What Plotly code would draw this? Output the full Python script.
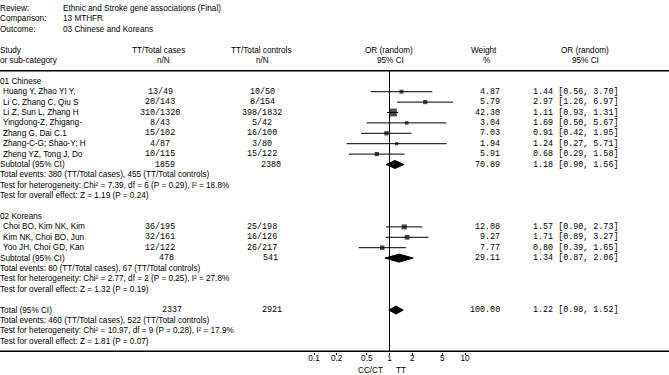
import plotly.graph_objects as go
import math

# ---------------- data ----------------
review_labels = ["Review:", "Comparison:", "Outcome:"]
review_values = ["Ethnic and Stroke gene associations (Final)", "13 MTHFR", "03 Chinese and Koreans"]

cn_studies = ["Huang Y, Zhao YI Y,", "Li C, Zhang C, Qiu S", "Li Z, Sun L, Zhang H", "Yingdong-Z, Zhigang-",
              "Zhang G, Dai C.1", "Zhang-C-G; Shao-Y; H", "Zheng YZ, Tong J, Do"]
cn_cases = ["13/49", "20/143", "310/1320", "8/43", "15/102", "4/87", "10/115"]
cn_controls = ["10/50", "8/154", "398/1832", "5/42", "16/100", "3/80", "15/122"]
cn_weight = [4.87, 5.79, 42.30, 3.04, 7.03, 1.94, 5.91]
cn_or = [1.44, 2.97, 1.11, 1.69, 0.91, 1.24, 0.68]
cn_lo = [0.56, 1.26, 0.93, 0.50, 0.42, 0.27, 0.29]
cn_hi = [3.70, 6.97, 1.31, 5.67, 1.95, 5.71, 1.58]
cn_sub = {"cases": "1859", "controls": "2380", "weight": 70.89, "or": 1.18, "lo": 0.90, "hi": 1.56}
cn_notes = ["Total events: 380 (TT/Total cases), 455 (TT/Total controls)",
            "Test for heterogeneity: Chi\u00b2 = 7.39, df = 6 (P = 0.29), I\u00b2 = 18.8%",
            "Test for overall effect: Z = 1.19 (P = 0.24)"]

kr_studies = ["Choi BO, Kim NK, Kim", "Kim NK, Choi BO, Jun", "Yoo JH, Choi GD, Kan"]
kr_cases = ["36/195", "32/161", "12/122"]
kr_controls = ["25/198", "16/126", "26/217"]
kr_weight = [12.08, 9.27, 7.77]
kr_or = [1.57, 1.71, 0.80]
kr_lo = [0.90, 0.89, 0.39]
kr_hi = [2.73, 3.27, 1.65]
kr_sub = {"cases": "478", "controls": "541", "weight": 29.11, "or": 1.34, "lo": 0.87, "hi": 2.06}
kr_notes = ["Total events: 80 (TT/Total cases), 67 (TT/Total controls)",
            "Test for heterogeneity: Chi\u00b2 = 2.77, df = 2 (P = 0.25), I\u00b2 = 27.8%",
            "Test for overall effect: Z = 1.32 (P = 0.19)"]

total = {"cases": "2337", "controls": "2921", "weight": 100.00, "or": 1.22, "lo": 0.98, "hi": 1.52}
total_notes = ["Total events: 460 (TT/Total cases), 522 (TT/Total controls)",
               "Test for heterogeneity: Chi\u00b2 = 10.97, df = 9 (P = 0.28), I\u00b2 = 17.9%",
               "Test for overall effect: Z = 1.81 (P = 0.07)"]

tick_vals = [0.1, 0.2, 0.5, 1, 2, 5, 10]
tick_text = ["0.1", "0.2", "0.5", "1", "2", "5", "10"]

# ---------------- layout helpers ----------------
W, H = 669, 375
SANS = "Liberation Sans, Arial, sans-serif"
MONO = "Liberation Mono, Courier New, monospace"
FS = 8.2
FM = 8.4


def row_y(k):
    return 8.5 + 10.4 * k


annotations = []


def txt(x, k, s, anchor="left", font=SANS, size=FS):
    annotations.append(dict(x=x / W, y=row_y(k), xref="paper", yref="y", text=s, showarrow=False,
                            xanchor=anchor, yanchor="middle",
                            font=dict(family=font, size=size, color="black")))


# header block
for i, (lab, val) in enumerate(zip(review_labels, review_values)):
    txt(-2, i, lab)
    txt(61, i, val)

txt(-2, 4, "Study")
txt(-2, 5, "or sub-category")
txt(158, 4, "TT/Total cases", "center")
txt(163, 5, "n/N", "center")
txt(261, 4, "TT/Total controls", "center")
txt(262, 5, "n/N", "center")
txt(389, 4, "OR (random)", "center")
txt(390, 5, "95% CI", "center")
txt(484, 4, "Weight", "center")
txt(486, 5, "%", "center")
txt(585, 4, "OR (random)", "center")
txt(585, 5, "95% CI", "center")

ci_x, ci_y = [], []
sq_x, sq_y, sq_s = [], [], []
diamonds = []


def study_rows(k0, studies, cases, controls, weight, ors, los, his):
    for j, name in enumerate(studies):
        k = k0 + j
        txt(1, k, name)
        txt(160, k, cases[j], "center", MONO, FM)
        txt(262, k, controls[j], "center", MONO, FM)
        txt(502, k, f"{weight[j]:.2f}", "right", MONO, FM)
        txt(531, k, f"{ors[j]:.2f} [{los[j]:.2f}, {his[j]:.2f}]", "left", MONO, FM)
        ci_x.extend([los[j], his[j], None])
        ci_y.extend([row_y(k), row_y(k), None])
        sq_x.append(ors[j])
        sq_y.append(row_y(k))
        sq_s.append(2 + 0.9 * math.sqrt(weight[j]))


def summary_row(k, label, d, xc, xt):
    txt(-2, k, label)
    txt(xc, k, d["cases"], "center", MONO, FM)
    txt(xt, k, d["controls"], "center", MONO, FM)
    txt(502, k, f"{d['weight']:.2f}", "right", MONO, FM)
    txt(531, k, f"{d['or']:.2f} [{d['lo']:.2f}, {d['hi']:.2f}]", "left", MONO, FM)
    yc = row_y(k)
    diamonds.append(([d["lo"], d["or"], d["hi"], d["or"], d["lo"]],
                     [yc, yc - 4, yc, yc + 4, yc]))


txt(-2, 7, "01 Chinese")
study_rows(8, cn_studies, cn_cases, cn_controls, cn_weight, cn_or, cn_lo, cn_hi)
summary_row(15, "Subtotal (95% CI)", cn_sub, 165, 271)
for i, n in enumerate(cn_notes):
    txt(-2, 16 + i, n)

txt(-2, 20, "02 Koreans")
study_rows(21, kr_studies, kr_cases, kr_controls, kr_weight, kr_or, kr_lo, kr_hi)
summary_row(24, "Subtotal (95% CI)", kr_sub, 166, 270)
for i, n in enumerate(kr_notes):
    txt(-2, 25 + i, n)

summary_row(29, "Total (95% CI)", total, 172, 272)
for i, n in enumerate(total_notes):
    txt(-2, 30 + i, n)

# labels under axis
for lab, xc in (("CC/CT", 370), ("TT", 401)):
    annotations.append(dict(x=xc / W, y=1 - 370.5 / H, xref="paper", yref="paper", text=lab,
                            showarrow=False, xanchor="center", yanchor="middle",
                            font=dict(family=SANS, size=FS, color="black")))

fig = go.Figure()
fig.add_trace(go.Scatter(x=ci_x, y=ci_y, mode="lines", line=dict(color="black", width=1),
                         hoverinfo="skip", showlegend=False, cliponaxis=False))
fig.add_trace(go.Scatter(x=sq_x, y=sq_y, mode="markers",
                         marker=dict(symbol="square", size=sq_s, color="black", line=dict(width=0)),
                         showlegend=False, cliponaxis=False))
for dx, dy in diamonds:
    fig.add_trace(go.Scatter(x=dx, y=dy, mode="lines", fill="toself", fillcolor="black",
                             line=dict(color="black", width=1),
                             hoverinfo="skip", showlegend=False))

x_one = 389.5
dec = 75.5
lo_px, hi_px = x_one - 1.5 * dec, x_one + 1.5 * dec

shapes = [
    dict(type="line", xref="paper", yref="paper", x0=0, x1=1, y0=1 - 70.8 / H, y1=1 - 70.8 / H,
         line=dict(color="black", width=1.5)),
    dict(type="line", xref="paper", yref="paper", x0=0, x1=1, y0=1 - 351.3 / H, y1=1 - 351.3 / H,
         line=dict(color="black", width=1.5)),
    dict(type="line", xref="x", yref="y", x0=1, x1=1, y0=70.8, y1=351.5, line=dict(color="black", width=1)),
]

fig.update_layout(
    width=W, height=H, margin=dict(l=0, r=0, t=0, b=0),
    paper_bgcolor="white", plot_bgcolor="white",
    xaxis=dict(type="log", range=[-1.5, 1.5], domain=[lo_px / W, hi_px / W], anchor="y",
               tickvals=tick_vals, ticktext=tick_text, ticks="outside", ticklen=2, tickcolor="black",
               ticklabelstandoff=-4,
               tickfont=dict(family=SANS, size=FS, color="black"), showgrid=False, zeroline=False,
               showline=False),
    yaxis=dict(range=[352, 0], domain=[23 / H, 1], visible=False),
    shapes=shapes, annotations=annotations, showlegend=False,
)

fig.write_html("out.html", config={"displayModeBar": False},
               post_script="document.body.style.margin='0';document.body.style.padding='0';")
